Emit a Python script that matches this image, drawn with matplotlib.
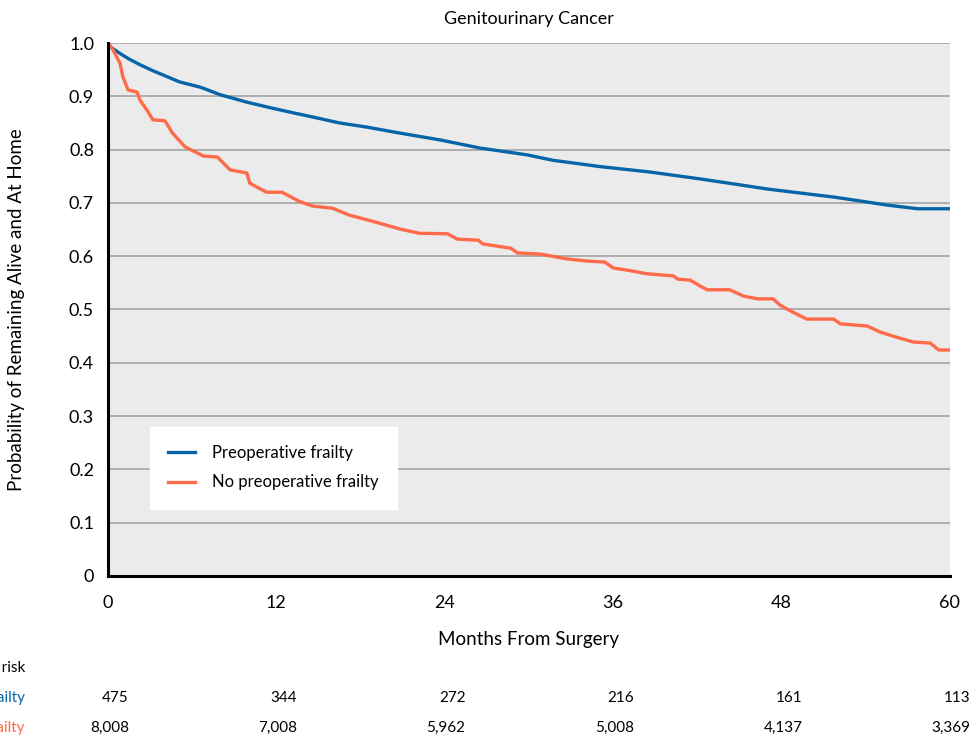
import matplotlib.pyplot as plt
import numpy as np

plt.rcParams['font.family'] = ['Lato', 'DejaVu Sans']

# Kaplan-Meier style curves (months, probability)
frail_t = [0, 0.2, 0.6, 1.0, 1.5, 2.3, 3.2, 4.2, 5.1, 6.6, 8.0, 9.9, 11.5, 13.2,
           14.8, 16.5, 18.5, 20.8, 23.7, 26.5, 29.9, 31.7, 35.1, 38.6, 42.2,
           44.5, 47.0, 49.5, 51.7, 53.5, 55.5, 57.7, 60]
frail_s = [1.0, 0.992, 0.985, 0.978, 0.970, 0.959, 0.948, 0.937, 0.927, 0.917,
           0.903, 0.889, 0.879, 0.869, 0.860, 0.850, 0.842, 0.831, 0.818, 0.803,
           0.790, 0.780, 0.768, 0.758, 0.745, 0.736, 0.726, 0.718, 0.711, 0.704,
           0.696, 0.689, 0.689]

nofrail_t = [0, 0.3, 0.6, 0.86, 1.07, 1.43, 2.07, 2.28, 2.78, 3.2, 4.06, 4.6, 5.5,
             6.8, 7.8, 8.7, 9.9, 10.1, 11.3, 12.4, 13.7, 14.6, 16.0, 17.2, 18.5,
             19.6, 20.8, 22.2, 24.2, 24.9, 26.4, 26.7, 28.7, 29.2, 30.8, 32.7,
             34.1, 35.4, 36.0, 37.4, 38.4, 40.3, 40.6, 41.5, 42.2, 42.7, 44.3,
             45.3, 46.3, 47.4, 47.9, 48.8, 49.8, 51.7, 52.2, 54.1, 55.0, 56.2,
             57.4, 58.6, 59.2, 60]
nofrail_s = [1.0, 0.99, 0.975, 0.962, 0.936, 0.912, 0.908, 0.893, 0.874, 0.856,
             0.854, 0.831, 0.805, 0.788, 0.786, 0.762, 0.756, 0.737, 0.720, 0.720,
             0.702, 0.694, 0.690, 0.677, 0.668, 0.660, 0.651, 0.643, 0.642, 0.632,
             0.630, 0.623, 0.615, 0.606, 0.604, 0.595, 0.591, 0.589, 0.578, 0.572,
             0.567, 0.563, 0.557, 0.555, 0.544, 0.537, 0.537, 0.525, 0.520, 0.520,
             0.508, 0.495, 0.482, 0.482, 0.473, 0.469, 0.458, 0.448, 0.439, 0.437,
             0.424, 0.424]

risk_months = [0, 12, 24, 36, 48, 60]
risk_frail = ['475', '344', '272', '216', '161', '113']
risk_nofrail = ['8,008', '7,008', '5,962', '5,008', '4,137', '3,369']

blue = '#0565a8'
orange = '#ff6b4a'

fig = plt.figure(figsize=(9.77, 7.39), dpi=100)
ax = fig.add_axes([0.1105, 0.2206, 0.8618, 0.7212])
ax.set_facecolor('#ebebeb')

ax.plot(frail_t, frail_s, color=blue, lw=2.4, label='Preoperative frailty')
ax.plot(nofrail_t, nofrail_s, color=orange, lw=2.4, label='No preoperative frailty')

ax.set_xlim(0, 60)
ax.set_ylim(0, 1.0)
ax.set_xticks(risk_months)
yt = np.round(np.arange(0, 1.01, 0.1), 1)
ax.set_yticks(yt)
ax.set_yticklabels(['0'] + [f'{v:.1f}' for v in yt[1:]])
ax.tick_params(length=0, labelsize=13)
ax.tick_params(axis='x', pad=14)
ax.tick_params(axis='y', pad=10)
ax.yaxis.grid(True, color='#a3a3a3', lw=1.2)
ax.set_axisbelow(True)
for s in ['top', 'right']:
    ax.spines[s].set_visible(False)
for s in ['left', 'bottom']:
    ax.spines[s].set_linewidth(2.2)
    ax.spines[s].set_color('black')

ax.set_title('Genitourinary Cancer', fontsize=13, pad=14)
ax.set_xlabel('Months From Surgery', fontsize=13.5, labelpad=14)
ax.set_ylabel('Probability of Remaining Alive and At Home', fontsize=13.5, labelpad=32)

leg = ax.legend(loc='lower left', bbox_to_anchor=(0.05, 0.126), fontsize=12,
                frameon=True, fancybox=False, framealpha=1, edgecolor='white',
                handlelength=1.6, borderpad=1.1, labelspacing=0.8, handletextpad=1.0,
                borderaxespad=0)

# numbers at risk
fig.text(25 / 977, 1 - 668 / 739, 'No. at risk', ha='right', va='center', fontsize=11)
fig.text(25 / 977, 1 - 698 / 739, 'Preoperative frailty', ha='right', va='center',
         fontsize=11, color=blue)
fig.text(25 / 977, 1 - 728 / 739, 'No preoperative frailty', ha='right', va='center',
         fontsize=11, color=orange)
for m, a, b in zip(risk_months, risk_frail, risk_nofrail):
    ax.annotate(a, xy=(m, 1 - 698 / 739), xycoords=('data', 'figure fraction'),
                xytext=(15, 0), textcoords='offset points', ha='right', va='center',
                fontsize=11, annotation_clip=False)
    ax.annotate(b, xy=(m, 1 - 728 / 739), xycoords=('data', 'figure fraction'),
                xytext=(15, 0), textcoords='offset points', ha='right', va='center',
                fontsize=11, annotation_clip=False)

fig.savefig('out.png', dpi=100)
